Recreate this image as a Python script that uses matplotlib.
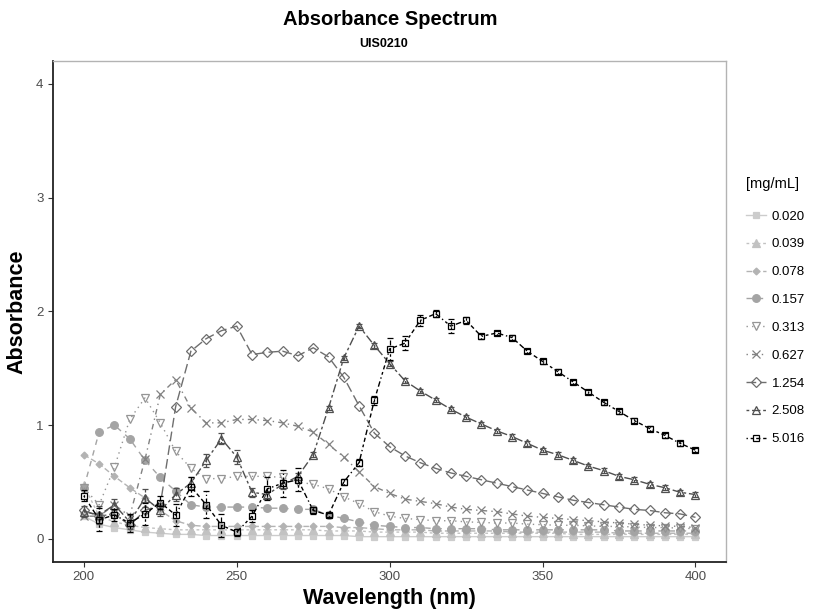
import numpy as np
import matplotlib
matplotlib.use("Agg")
import matplotlib.pyplot as plt

plt.rcParams['font.family'] = ['Liberation Sans', 'DejaVu Sans']

wavelength = np.arange(200, 401, 5)
conc_labels = ['0.020', '0.039', '0.078', '0.157', '0.313', '0.627', '1.254', '2.508', '5.016']

# absorbance, one list per concentration (200..400 nm, 5 nm step)
abs_0020 = [0.20, 0.13, 0.10, 0.08, 0.06, 0.05, 0.04, 0.04, 0.03, 0.03, 0.03, 0.03, 0.03, 0.03,
            0.03, 0.03, 0.03, 0.03, 0.02, 0.02, 0.02, 0.02, 0.02, 0.02, 0.02, 0.02, 0.02, 0.02,
            0.02, 0.02, 0.02, 0.02, 0.02, 0.02, 0.02, 0.02, 0.02, 0.02, 0.02, 0.02, 0.02]
abs_0039 = [0.47, 0.20, 0.15, 0.12, 0.10, 0.09, 0.08, 0.08, 0.08, 0.08, 0.08, 0.08, 0.08, 0.08,
            0.08, 0.08, 0.07, 0.07, 0.07, 0.06, 0.06, 0.06, 0.06, 0.05, 0.05, 0.05, 0.05, 0.05,
            0.05, 0.05, 0.05, 0.05, 0.04, 0.04, 0.04, 0.04, 0.04, 0.04, 0.04, 0.04, 0.04]
abs_0078 = [0.74, 0.66, 0.55, 0.45, 0.36, 0.25, 0.16, 0.12, 0.11, 0.11, 0.11, 0.11, 0.11, 0.11,
            0.11, 0.11, 0.11, 0.10, 0.10, 0.09, 0.08, 0.08, 0.08, 0.07, 0.07, 0.07, 0.07, 0.07,
            0.06, 0.06, 0.06, 0.06, 0.06, 0.06, 0.06, 0.05, 0.05, 0.05, 0.05, 0.05, 0.05]
abs_0157 = [0.45, 0.94, 1.00, 0.88, 0.69, 0.54, 0.42, 0.30, 0.28, 0.28, 0.28, 0.28, 0.27, 0.27,
            0.26, 0.26, 0.21, 0.18, 0.15, 0.12, 0.11, 0.10, 0.10, 0.09, 0.09, 0.09, 0.09, 0.08,
            0.08, 0.08, 0.08, 0.08, 0.08, 0.08, 0.08, 0.07, 0.07, 0.07, 0.07, 0.07, 0.07]
abs_0313 = [0.45, 0.30, 0.63, 1.05, 1.24, 1.02, 0.77, 0.62, 0.53, 0.53, 0.55, 0.55, 0.55, 0.54,
            0.50, 0.48, 0.44, 0.37, 0.31, 0.24, 0.20, 0.18, 0.17, 0.16, 0.16, 0.15, 0.145, 0.14,
            0.14, 0.13, 0.125, 0.12, 0.12, 0.115, 0.11, 0.11, 0.105, 0.10, 0.10, 0.095, 0.09]
abs_0627 = [0.20, 0.20, 0.30, 0.20, 0.70, 1.27, 1.40, 1.15, 1.02, 1.02, 1.05, 1.05, 1.04, 1.02,
            0.99, 0.94, 0.83, 0.72, 0.59, 0.46, 0.40, 0.35, 0.33, 0.31, 0.28, 0.26, 0.25, 0.24,
            0.22, 0.20, 0.19, 0.18, 0.17, 0.16, 0.15, 0.14, 0.13, 0.12, 0.115, 0.11, 0.10]
abs_1254 = [0.25, 0.20, 0.22, 0.12, 0.25, 0.30, 1.16, 1.65, 1.76, 1.83, 1.87, 1.62, 1.64, 1.65,
            1.61, 1.68, 1.60, 1.42, 1.17, 0.93, 0.81, 0.73, 0.67, 0.62, 0.58, 0.55, 0.52, 0.49,
            0.46, 0.43, 0.40, 0.37, 0.34, 0.32, 0.30, 0.28, 0.26, 0.25, 0.23, 0.22, 0.19]
abs_2508 = [0.24, 0.21, 0.30, 0.15, 0.36, 0.25, 0.39, 0.49, 0.69, 0.88, 0.72, 0.41, 0.39, 0.48,
            0.55, 0.74, 1.15, 1.59, 1.87, 1.70, 1.54, 1.39, 1.30, 1.22, 1.14, 1.07, 1.01, 0.95,
            0.90, 0.84, 0.78, 0.74, 0.69, 0.64, 0.60, 0.55, 0.52, 0.48, 0.45, 0.41, 0.39]
abs_5016 = [0.38, 0.17, 0.21, 0.14, 0.22, 0.32, 0.21, 0.46, 0.30, 0.12, 0.06, 0.20, 0.44, 0.49,
            0.52, 0.25, 0.21, 0.50, 0.67, 1.22, 1.67, 1.72, 1.92, 1.98, 1.87, 1.92, 1.78, 1.81,
            1.77, 1.65, 1.56, 1.47, 1.38, 1.29, 1.20, 1.12, 1.04, 0.97, 0.91, 0.84, 0.78]

# standard deviations (error bars) for the two strongest concentrations
sd_2508 = [0.05, 0.08, 0.05, 0.06, 0.08, 0.05, 0.06, 0.05, 0.06, 0.05, 0.06, 0.04, 0.03, 0.04,
           0.03, 0.02, 0.02, 0.02, 0.02, 0.02, 0.02, 0.02, 0.02, 0.02, 0.02, 0.02, 0.02, 0.02,
           0.02, 0.02, 0.02, 0.02, 0.02, 0.02, 0.02, 0.02, 0.02, 0.02, 0.02, 0.02, 0.02]
sd_5016 = [0.05, 0.10, 0.05, 0.08, 0.10, 0.06, 0.10, 0.08, 0.12, 0.10, 0.03, 0.05, 0.10, 0.12,
           0.10, 0.03, 0.02, 0.03, 0.03, 0.04, 0.10, 0.06, 0.05, 0.03, 0.06, 0.03, 0.02, 0.02,
           0.02, 0.02, 0.02, 0.02, 0.02, 0.02, 0.02, 0.02, 0.02, 0.02, 0.02, 0.02, 0.02]

series = [abs_0020, abs_0039, abs_0078, abs_0157, abs_0313, abs_0627, abs_1254, abs_2508, abs_5016]
errors = [None] * 7 + [sd_2508, sd_5016]

colors = ['#cccccc', '#c2c2c2', '#b3b3b3', '#a4a4a4', '#959595', '#828282', '#6e6e6e', '#4f4f4f', '#000000']
linestyles = ['-', (0, (2, 2)), (0, (4, 2)), (0, (4, 4)), (0, (1, 3)), (0, (1, 3, 4, 3)),
              (0, (7, 3)), (0, (2, 2, 6, 2)), (0, (1, 2, 2, 2, 3, 2, 4, 2))]
markers = ['s', '^', 'D', 'o', 'v', 'x', 'D', '^', 's']
filled = [True, True, True, True, False, False, False, False, False]
msizes = [5, 5.5, 3.5, 5.5, 6, 5.5, 5, 6, 5]

fig = plt.figure(figsize=(8.26, 6.13), dpi=100)
ax = fig.add_axes([0.0645, 0.0837, 0.8145, 0.8168])

for i, (y, lab) in enumerate(zip(series, conc_labels)):
    c = colors[i]
    ax.plot(wavelength, y, color=c, lw=1.0, ls=linestyles[i], marker=markers[i], ms=msizes[i],
            mfc=c if filled[i] else 'none', mec=c, mew=0.9, label=lab, zorder=2 + i * 0.1)
    if errors[i] is not None:
        eb = ax.errorbar(wavelength, y, yerr=errors[i], fmt='none', ecolor=c, elinewidth=0.9,
                         capsize=2, capthick=0.9, zorder=2 + i * 0.1)
        for bl in eb[2]:
            bl.set_linestyle(linestyles[i])

ax.set_xlim(190, 410)
ax.set_ylim(-0.2, 4.2)
ax.set_xticks([200, 250, 300, 350, 400])
ax.set_yticks([0, 1, 2, 3, 4])
ax.tick_params(labelsize=9.5, labelcolor='#4d4d4d', color='#333333', length=3.5, width=0.8)
for side in ['top', 'right']:
    ax.spines[side].set_color('#b3b3b3')
    ax.spines[side].set_linewidth(1.0)
for side in ['left', 'bottom']:
    ax.spines[side].set_color('#222222')
    ax.spines[side].set_linewidth(1.3)

ax.set_xlabel('Wavelength (nm)', fontsize=15.5, fontweight='bold', labelpad=3)
ax.set_ylabel('Absorbance', fontsize=15.5, fontweight='bold', labelpad=6)

fig.text(0.473, 0.968, 'Absorbance Spectrum', ha='center', va='center', fontsize=14.5, fontweight='bold')
fig.text(0.465, 0.928, 'UIS0210', ha='center', va='center', fontsize=9, fontweight='bold')

leg = ax.legend(loc='upper left', bbox_to_anchor=(1.012, 0.792), frameon=False, title='[mg/mL]',
                fontsize=9.5, title_fontsize=10.5, handlelength=1.5, labelspacing=1.18,
                handletextpad=0.45, alignment='left')
leg._legend_box.sep = 14

fig.savefig('out.png', dpi=100)
